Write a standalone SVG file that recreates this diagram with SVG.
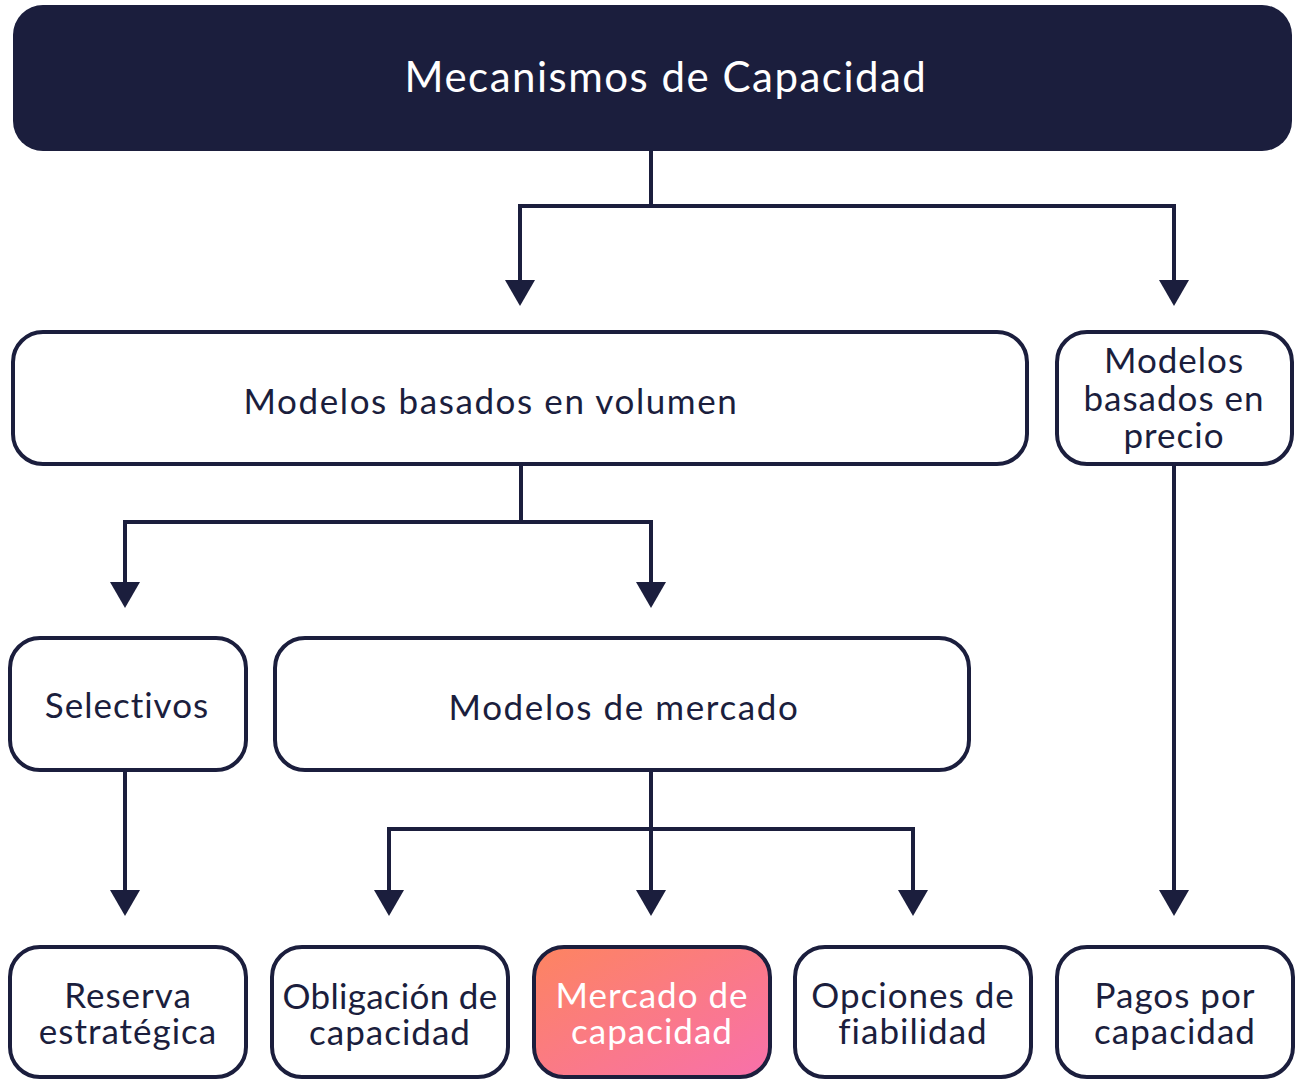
<svg xmlns="http://www.w3.org/2000/svg" width="1297" height="1079" viewBox="0 0 1297 1079">
<style>
.box{fill:#ffffff;stroke:#1b1e3d;stroke-width:4}
.t{font-family:Lato,"Open Sans",sans-serif;font-size:35px;letter-spacing:1px;fill:#1b1e3d;text-anchor:middle}
.w{fill:#ffffff}
.c{fill:none;stroke:#1b1e3d;stroke-width:4}
</style>
<defs>
<linearGradient id="g" x1="0" y1="0" x2="1" y2="1">
<stop offset="0" stop-color="#fd8460"/>
<stop offset="1" stop-color="#f870ab"/>
</linearGradient>
</defs>
<g id="connectors">
<path class="c" d="M651,151 V206 H520 V280"/>
<path class="c" d="M651,206 H1174 V280"/>
<path class="c" d="M521,465 V522 H125 V582"/>
<path class="c" d="M521,522 H651 V582"/>
<path class="c" d="M125,770 V890"/>
<path class="c" d="M651,770 V890"/>
<path class="c" d="M389,890 V829 H913 V890"/>
<path class="c" d="M1174,465 V890"/>
<g fill="#1b1e3d">
<path d="M505,280 H535 L520,306 Z"/>
<path d="M1159,280 H1189 L1174,306 Z"/>
<path d="M110,582 H140 L125,608 Z"/>
<path d="M636,582 H666 L651,608 Z"/>
<path d="M110,890 H140 L125,916 Z"/>
<path d="M374,890 H404 L389,916 Z"/>
<path d="M636,890 H666 L651,916 Z"/>
<path d="M898,890 H928 L913,916 Z"/>
<path d="M1159,890 H1189 L1174,916 Z"/>
</g>
</g>
<g id="n-root">
<rect x="13" y="5" width="1279" height="146" rx="30" fill="#1b1e3d"/>
<text class="t w" x="666" y="92" style="font-size:42px;letter-spacing:1.5px">Mecanismos de Capacidad</text>
</g>
<g id="n-volumen">
<rect class="box" x="13" y="332" width="1014" height="132" rx="30"/>
<text class="t" x="491" y="414" style="letter-spacing:1.6px">Modelos basados en volumen</text>
</g>
<g id="n-precio">
<rect class="box" x="1057" y="332" width="235" height="132" rx="30"/>
<text class="t" x="1174" y="373">Modelos</text>
<text class="t" x="1174" y="411">basados en</text>
<text class="t" x="1174" y="448">precio</text>
</g>
<g id="n-selectivos">
<rect class="box" x="10" y="638" width="236" height="132" rx="30"/>
<text class="t" x="127" y="718">Selectivos</text>
</g>
<g id="n-mercado">
<rect class="box" x="275" y="638" width="694" height="132" rx="30"/>
<text class="t" x="624" y="720" style="letter-spacing:1.6px">Modelos de mercado</text>
</g>
<g id="n-reserva">
<rect class="box" x="10" y="947" width="236" height="130" rx="30"/>
<text class="t" x="128" y="1008">Reserva</text>
<text class="t" x="128" y="1044">estratégica</text>
</g>
<g id="n-obligacion">
<rect class="box" x="272" y="947" width="236" height="130" rx="30"/>
<text class="t" x="390" y="1009" style="letter-spacing:0.3px">Obligación de</text>
<text class="t" x="390" y="1045">capacidad</text>
</g>
<g id="n-mercadocap">
<rect x="534" y="947" width="236" height="130" rx="30" fill="url(#g)" stroke="#1b1e3d" stroke-width="4"/>
<text class="t w" x="652" y="1008">Mercado de</text>
<text class="t w" x="652" y="1044">capacidad</text>
</g>
<g id="n-opciones">
<rect class="box" x="795" y="947" width="236" height="130" rx="30"/>
<text class="t" x="913" y="1008">Opciones de</text>
<text class="t" x="913" y="1044">fiabilidad</text>
</g>
<g id="n-pagos">
<rect class="box" x="1057" y="947" width="236" height="130" rx="30"/>
<text class="t" x="1175" y="1008">Pagos por</text>
<text class="t" x="1175" y="1044">capacidad</text>
</g>
</svg>
